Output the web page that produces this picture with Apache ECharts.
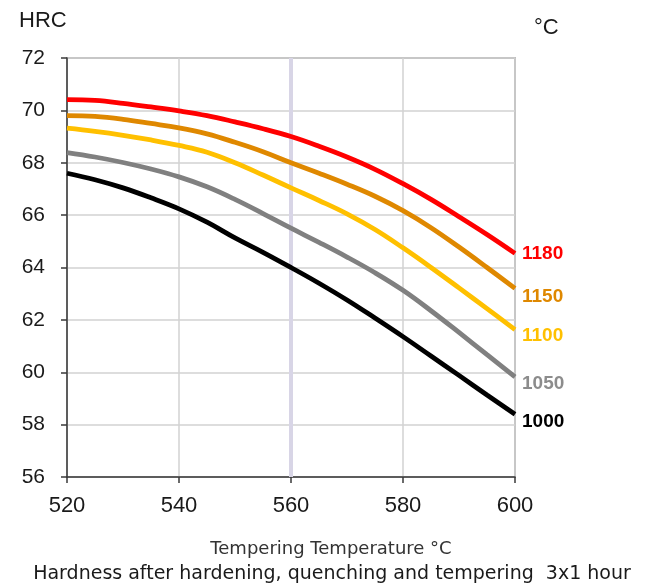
<!DOCTYPE html>
<html>
<head>
<meta charset="utf-8">
<script src="https://cdn.jsdelivr.net/npm/echarts@6/dist/echarts.min.js"></script>
<style>
    html, body { margin: 0; padding: 0; background: #fff; }
    #chart { width: 651px; height: 585px; }
</style>
</head>
<body>
<div id="chart"></div>
<script>
// tempering temperature, °C
const temps = [520, 525, 530, 535, 540, 545, 550, 555, 560, 565, 570, 575, 580, 585, 590, 595, 600];

// hardness HRC per hardening temperature
const hrc1180 = [70.41, 70.38, 70.27, 70.13, 69.98, 69.8, 69.56, 69.3, 69.0, 68.63, 68.22, 67.75, 67.2, 66.6, 65.94, 65.26, 64.54];
const hrc1150 = [69.8, 69.77, 69.66, 69.5, 69.33, 69.1, 68.78, 68.42, 68.0, 67.6, 67.18, 66.72, 66.17, 65.52, 64.78, 64.0, 63.2];
const hrc1100 = [69.32, 69.2, 69.05, 68.87, 68.66, 68.4, 68.0, 67.53, 67.04, 66.56, 66.05, 65.45, 64.75, 64.0, 63.22, 62.43, 61.63];
const hrc1050 = [68.39, 68.22, 68.01, 67.76, 67.46, 67.08, 66.6, 66.06, 65.5, 64.96, 64.4, 63.8, 63.13, 62.35, 61.52, 60.67, 59.82];
const hrc1000 = [67.6, 67.35, 67.04, 66.66, 66.24, 65.73, 65.13, 64.58, 64.0, 63.4, 62.76, 62.07, 61.36, 60.62, 59.88, 59.13, 58.4];

const seriesNames = ['1180', '1150', '1100', '1050', '1000'];
const seriesData = [hrc1180, hrc1150, hrc1100, hrc1050, hrc1000];
const seriesColors = ['#ff0000', '#df8800', '#ffc000', '#808080', '#000000'];
const labelColors = ['#ff0000', '#df8800', '#ffc000', '#8c8c8c', '#000000'];
const labelOffsets = [[0, 0], [0, 8], [0, 6], [0, 7], [0, 8]]; // nudge so labels don't overlap

const markTemp = 560;

const ARIAL = 'Liberation Sans';

const SPLIT_LINE = {
    show: true,
    lineStyle: {
        color: '#d2d2d2',
        width: 1.5
    }
};

const AXIS_LINE = {
    show: true,
    lineStyle: { color: '#3a3a3a', width: 1.5 }
};

const AXIS_TICK = {
    show: true,
    length: 6,
    lineStyle: { color: '#3a3a3a', width: 1.5 }
};

function buildSeries() {
    return seriesNames.map((name, i) => ({
        name: name,
        type: 'line',
        smooth: 0.4,
        symbol: 'none',
        data: temps.map((t, j) => [t, seriesData[i][j]]),
        lineStyle: {
            color: seriesColors[i],
            width: 4.8
        },
        endLabel: {
            show: true,
            formatter: name,
            color: labelColors[i],
            fontSize: 19,
            fontWeight: 'bold',
            fontFamily: ARIAL,
            distance: 7,
            offset: labelOffsets[i]
        },
        z: 10 - i
    }));
}

const series = buildSeries();
// lavender marker at 560 °C, under the curves
series.push({
    type: 'line',
    data: [],
    silent: true,
    z: 1,
    markLine: {
        silent: true,
        symbol: 'none',
        label: { show: false },
        lineStyle: {
            color: '#d8d5e6',
            width: 4,
            type: 'solid'
        },
        data: [{ xAxis: markTemp }]
    }
});

const chart = echarts.init(document.getElementById('chart'));

chart.setOption({
    animation: false,
    backgroundColor: '#ffffff',
    grid: {
        left: 67,
        right: 136,
        top: 58,
        bottom: 108,
        show: true,
        borderColor: '#8c8c8c',
        borderWidth: 1.5
    },
    xAxis: {
        type: 'value',
        min: 520,
        max: 600,
        interval: 20,
        axisLine: AXIS_LINE,
        axisTick: AXIS_TICK,
        axisLabel: { color: '#1a1a1a', fontSize: 22, fontFamily: ARIAL, margin: 18 },
        splitLine: SPLIT_LINE
    },
    yAxis: {
        type: 'value',
        min: 56,
        max: 72,
        interval: 2,
        axisLine: AXIS_LINE,
        axisTick: AXIS_TICK,
        axisLabel: { color: '#1a1a1a', fontSize: 21, fontFamily: ARIAL, margin: 22 },
        splitLine: SPLIT_LINE
    },
    graphic: [
        {
            type: 'text',
            left: 19,
            top: 10,
            style: {
                text: 'HRC',
                fill: '#1a1a1a',
                fontSize: 22,
                fontFamily: ARIAL
            }
        },
        {
            type: 'text',
            left: 534,
            top: 17,
            style: {
                text: '°C',
                fill: '#1a1a1a',
                fontSize: 22,
                fontFamily: ARIAL
            }
        },
        {
            type: 'text',
            x: 331,
            y: 549,
            style: {
                text: 'Tempering Temperature °C',
                fill: '#333333',
                fontSize: 18,
                fontFamily: 'DejaVu Sans',
                align: 'center',
                verticalAlign: 'middle'
            }
        },
        {
            type: 'text',
            x: 332,
            y: 574,
            style: {
                text: 'Hardness after hardening, quenching and tempering  3x1 hour',
                fill: '#1a1a1a',
                fontSize: 19,
                fontFamily: 'DejaVu Sans',
                align: 'center',
                verticalAlign: 'middle'
            }
        }
    ],
    series: series
});
</script>
</body>
</html>
